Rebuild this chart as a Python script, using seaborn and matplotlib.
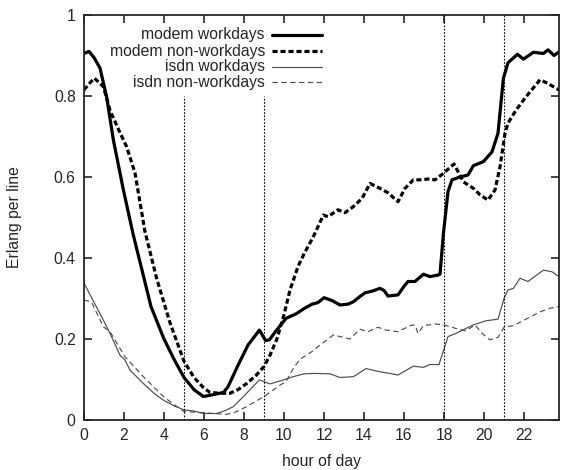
import matplotlib
matplotlib.use("Agg")
import matplotlib.pyplot as plt
from matplotlib.lines import Line2D
import seaborn as sns
import pandas as pd

# ---- data ----
mw_h = [0, 0.25, 0.5, 0.8, 1.13, 1.47, 1.97, 2.45, 2.8, 3.35, 4.0, 4.5, 5.0, 5.5, 5.97, 6.5, 6.97,
        7.2, 7.7, 8.2, 8.77, 9.08, 9.27, 9.6, 10.1, 10.6, 11.0, 11.4, 11.7, 12.0, 12.4, 12.8, 13.2,
        13.47, 13.8, 14.05, 14.4, 14.8, 15.0, 15.2, 15.7, 16.0, 16.2, 16.55, 16.97, 17.3, 17.7, 17.8,
        17.97, 18.2, 18.4, 18.8, 19.2, 19.47, 19.97, 20.4, 20.7, 20.97, 21.2, 21.67, 21.97, 22.47,
        22.97, 23.2, 23.5, 23.75]
mw_v = [0.905, 0.91, 0.895, 0.869, 0.798, 0.691, 0.568, 0.46, 0.39, 0.28, 0.2, 0.15, 0.105, 0.075,
        0.058, 0.063, 0.068, 0.082, 0.135, 0.185, 0.222, 0.196, 0.198, 0.22, 0.251, 0.262, 0.275,
        0.286, 0.29, 0.302, 0.295, 0.284, 0.286, 0.292, 0.305, 0.314, 0.318, 0.325, 0.32, 0.306,
        0.309, 0.33, 0.342, 0.342, 0.36, 0.354, 0.358, 0.36, 0.46, 0.564, 0.593, 0.60, 0.605,
        0.628, 0.638, 0.662, 0.708, 0.844, 0.882, 0.903, 0.891, 0.908, 0.905, 0.914, 0.90, 0.909]

mn_h = [0, 0.25, 0.52, 0.97, 1.3, 1.7, 2.13, 2.55, 3.05, 3.63, 4.3, 5.0, 5.5, 5.97, 6.3, 6.8, 7.3,
        7.7, 8.13, 8.6, 9.0, 9.3, 9.63, 10.0, 10.3, 10.7, 11.0, 11.47, 11.97, 12.2, 12.7, 13.05,
        13.47, 13.9, 14.3, 14.8, 15.2, 15.7, 16.05, 16.47, 16.8, 17.2, 17.55, 17.97, 18.5, 18.97,
        19.47, 19.8, 20.2, 20.55, 20.8, 21.05, 21.2, 21.6, 22.1, 22.8, 23.2, 23.6, 23.75]
mn_v = [0.815, 0.83, 0.844, 0.823, 0.765, 0.72, 0.675, 0.61, 0.465, 0.35, 0.24, 0.145, 0.105,
        0.08, 0.068, 0.066, 0.066, 0.075, 0.09, 0.11, 0.132, 0.16, 0.198, 0.26, 0.321, 0.379, 0.41,
        0.453, 0.506, 0.502, 0.519, 0.512, 0.527, 0.547, 0.584, 0.572, 0.561, 0.539, 0.572, 0.593,
        0.593, 0.595, 0.593, 0.609, 0.632, 0.588, 0.572, 0.556, 0.543, 0.568, 0.625, 0.708, 0.733,
        0.765, 0.798, 0.84, 0.831, 0.819, 0.815]

iw_h = [0, 0.4, 0.8, 1.3, 1.8, 2.05, 2.3, 2.97, 3.5, 3.97, 4.5, 5.0, 5.5, 5.97, 6.6, 7.0, 7.47,
        8.13, 8.77, 9.3, 9.97, 10.47, 11.0, 11.5, 12.3, 12.8, 13.47, 14.1, 14.8, 15.3, 15.7, 16.47,
        16.97, 17.3, 17.75, 18.2, 18.6, 19.47, 20.1, 20.7, 21.0, 21.2, 21.47, 21.8, 22.2, 22.97,
        23.4, 23.75]
iw_v = [0.338, 0.30, 0.263, 0.214, 0.16, 0.148, 0.123, 0.09, 0.066, 0.049, 0.035, 0.025, 0.022,
        0.016, 0.016, 0.022, 0.033, 0.066, 0.099, 0.089, 0.099, 0.107, 0.114, 0.115, 0.114, 0.105,
        0.107, 0.127, 0.119, 0.115, 0.111, 0.133, 0.13, 0.137, 0.137, 0.206, 0.214, 0.235, 0.245,
        0.249, 0.30, 0.321, 0.325, 0.35, 0.342, 0.37, 0.366, 0.354]

in_h = [0, 0.37, 0.97, 1.3, 2.05, 2.97, 3.97, 4.5, 5.0, 5.97, 6.5, 7.13, 7.6, 8.13, 9.0, 9.8, 10.1,
        10.5, 10.8, 11.4, 11.8, 12.47, 13.3, 13.8, 14.2, 14.7, 15.1, 15.7, 16.3, 16.55, 16.7, 16.97,
        17.6, 17.97, 18.6, 19.1, 19.55, 19.9, 20.3, 20.7, 21.0, 21.47, 22.1, 22.8, 23.3, 23.75]
in_v = [0.296, 0.292, 0.23, 0.218, 0.156, 0.107, 0.058, 0.038, 0.021, 0.018, 0.016, 0.014, 0.02,
        0.033, 0.058, 0.086, 0.095, 0.13, 0.15, 0.169, 0.185, 0.21, 0.20, 0.224, 0.218, 0.229,
        0.222, 0.218, 0.233, 0.235, 0.214, 0.233, 0.237, 0.235, 0.226, 0.22, 0.235, 0.214, 0.198,
        0.204, 0.229, 0.233, 0.249, 0.267, 0.276, 0.28]

series_names = ["modem workdays", "modem non-workdays", "isdn workdays", "isdn non-workdays"]
x_ticks = [0, 2, 4, 6, 8, 10, 12, 14, 16, 18, 20, 22]
y_ticks = [0, 0.2, 0.4, 0.6, 0.8, 1.0]
y_ticklabels = ["0", "0.2", "0.4", "0.6", "0.8", "1"]
vlines_low = [5, 9]
vlines_full = [18, 21]

# ---- plot ----
sns.set_style("ticks")
plt.rcParams["font.family"] = ["Liberation Sans", "DejaVu Sans"]

fig = plt.figure(figsize=(5.63, 4.70), dpi=100)
ax = fig.add_axes([84 / 563, 1 - 420 / 470, 475 / 563, 405 / 470])

styles = [
    dict(color="black", lw=2.3, ls="-"),
    dict(color="black", lw=2.3, ls=(0, (1.6, 0.9))),
    dict(color="#4d4d4d", lw=0.85, ls="-"),
    dict(color="#4d4d4d", lw=0.85, ls=(0, (4.5, 3.0))),
]
data = [(mw_h, mw_v), (mn_h, mn_v), (iw_h, iw_v), (in_h, in_v)]
for name, (h, v), st in zip(series_names, data, styles):
    df = pd.DataFrame({"hour": h, "erlang": v})
    sns.lineplot(data=df, x="hour", y="erlang", ax=ax, sort=False, legend=False,
                 color=st["color"], linewidth=st["lw"], linestyle=st["ls"])

for xv in vlines_low:
    ax.plot([xv, xv], [0, 0.8], color="black", lw=0.8, ls=(0, (1.5, 1.5)))
for xv in vlines_full:
    ax.plot([xv, xv], [0, 1.0], color="black", lw=0.8, ls=(0, (1.5, 1.5)))

ax.set_xlim(0, 23.75)
ax.set_ylim(0, 1)
ax.set_xticks(x_ticks)
ax.set_yticks(y_ticks)
ax.set_yticklabels(y_ticklabels)
ax.tick_params(direction="in", length=6, width=1.2, top=True, right=True, labelsize=11.3, pad=6)
for sp in ax.spines.values():
    sp.set_visible(True)
    sp.set_linewidth(1.3)
ax.set_xlabel("hour of day", fontsize=11.3, labelpad=8)
ax.set_ylabel("Erlang per line", fontsize=11.3, labelpad=23)

# gnuplot-style key: right-aligned text, sample line to the right
key_y = [0.951, 0.911, 0.872, 0.834]
for name, st, ky in zip(series_names, styles, key_y):
    ax.text(0.381, ky, name, transform=ax.transAxes, ha="right", va="center", fontsize=11.3)
    ax.add_line(Line2D([0.396, 0.501], [ky, ky], transform=ax.transAxes,
                       color=st["color"], lw=st["lw"], ls=st["ls"]))

fig.savefig("out.png", dpi=100)
